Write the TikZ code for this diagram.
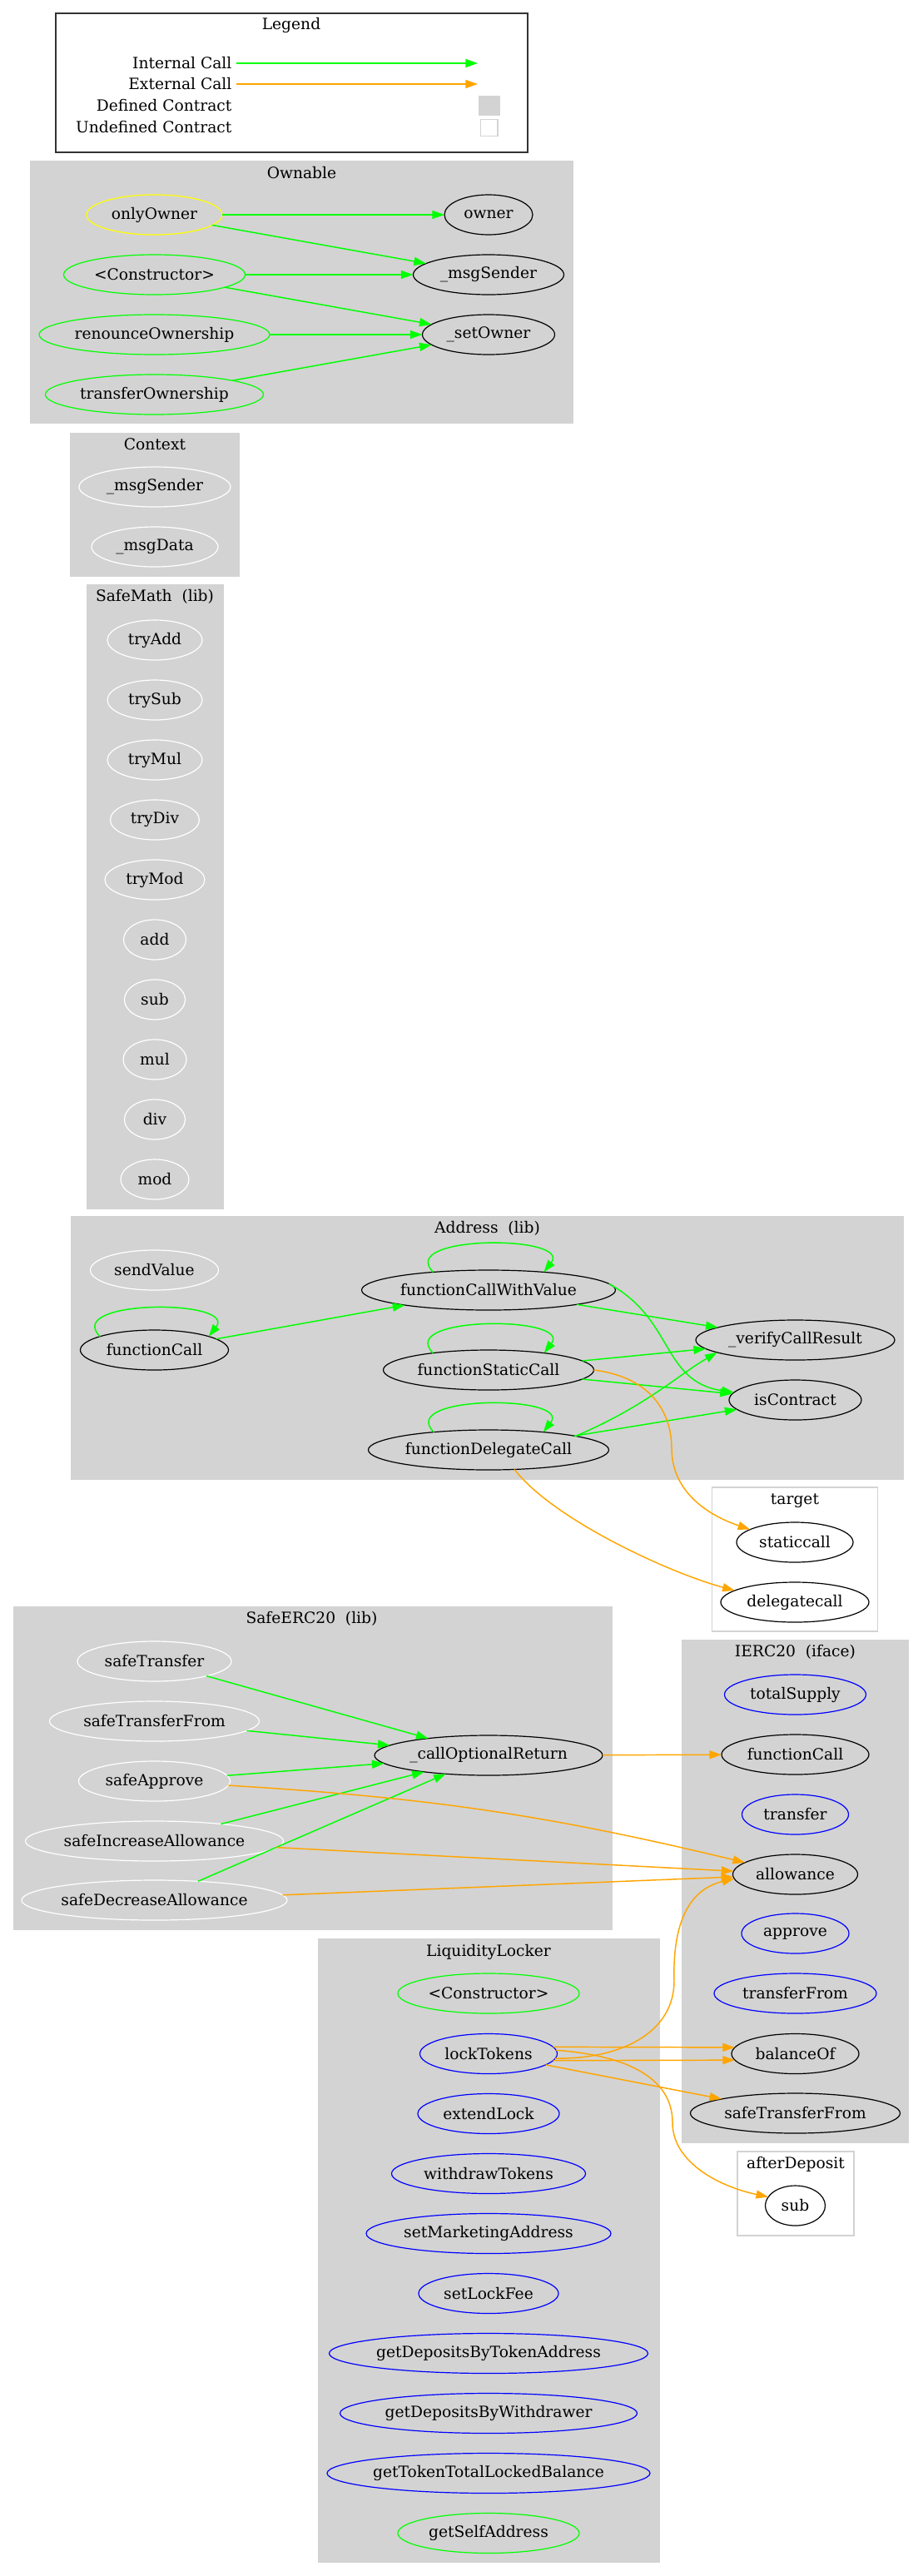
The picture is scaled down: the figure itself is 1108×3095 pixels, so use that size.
\documentclass[tikz,border=0pt]{standalone}
\usepackage{fontspec}
\setmainfont{DejaVu Serif}
\usetikzlibrary{shapes.geometric,arrows.meta}

\definecolor{clusterbg}{HTML}{D3D3D3}
\definecolor{callgreen}{HTML}{00FF00}
\definecolor{callorange}{HTML}{FFA500}
\definecolor{fnblue}{HTML}{0000FF}
\definecolor{fnyellow}{HTML}{FFFF00}

\tikzset{
    fn/.style={ellipse, draw=black, line width=0.9pt, inner xsep=-150pt, inner ysep=0pt, outer sep=0pt, minimum height=36pt, minimum width=#1*0.75pt},
    pubfn/.style={fn=#1, draw=fnblue},
    intfn/.style={fn=#1, draw=callgreen},
    modfn/.style={fn=#1, draw=fnyellow},
    libfn/.style={fn=#1, draw=white},
    icall/.style={callgreen, line width=1.1pt, -{Triangle[length=11pt,width=7.5pt]}},
    ecall/.style={callorange, line width=1.1pt, -{Triangle[length=11pt,width=7.5pt]}},
    cluster/.style={fill=clusterbg},
    extcluster/.style={draw=clusterbg, line width=1pt},
    legtext/.style={anchor=east, inner sep=4pt},
}

\begin{document}
\begin{tikzpicture}[x=0.75pt, y=-0.75pt, every node/.append style={font=\fontsize{14pt}{16.8pt}\selectfont}]
    \useasboundingbox (0,0) rectangle (1108,3095);

    \draw[black!80, line width=0.9pt] (67,16) rectangle (634,183);
    \node (legend) at (350,30) {Legend};
    \node[legtext] (lInt) at (284,76) {Internal Call};
    \node[legtext] (lExt) at (284,101) {External Call};
    \node[legtext] (lDef) at (284,127) {Defined Contract};
    \node[legtext] (lUndef) at (284,153) {Undefined Contract};
    \coordinate (lIntEnd) at (574,76);
    \coordinate (lExtEnd) at (574,101);
    \node[fill=clusterbg, draw=clusterbg, minimum width=19pt, minimum height=17.5pt, inner sep=0pt] (lDefBox) at (587.5,127) {};
    \node[draw=clusterbg, line width=1pt, minimum width=15.5pt, minimum height=15pt, inner sep=0pt] (lUndefBox) at (587.5,153.5) {};
    \draw[icall] (lInt) -- (lIntEnd);
    \draw[ecall] (lExt) -- (lExtEnd);

    \fill[cluster] (36,193) rectangle (689,509);
    \fill[cluster] (84,520) rectangle (288,693);
    \fill[cluster] (104,702) rectangle (269,1453);
    \fill[cluster] (85,1461) rectangle (1086,1778);
    \draw[extcluster] (855.5,1787) rectangle (1054.5,1960);
    \fill[cluster] (15.5,1930) rectangle (736,2319);
    \fill[cluster] (819,1970) rectangle (1092,2575);
    \fill[cluster] (381.5,2329) rectangle (792.5,3079);
    \draw[extcluster] (886,2585) rectangle (1026,2686);

    \node (ownable) at (362.5,208) {Ownable};
    \node[modfn=163] (oOnlyOwner) at (185.5,258) {onlyOwner};
    \node[fn=106] (oOwner) at (587,258) {owner};
    \node[intfn=218] (oCtor) at (185.5,330) {<Constructor>};
    \node[fn=181] (oMsgSender) at (587,330) {\_msgSender};
    \node[intfn=277] (oRenounce) at (185.5,402) {renounceOwnership};
    \node[fn=159] (oSetOwner) at (587,402) {\_setOwner};
    \node[intfn=262] (oTransfer) at (185.5,474) {transferOwnership};

    \node (context) at (186,534) {Context};
    \node[libfn=182] (cMsgSender) at (186,585) {\_msgSender};
    \node[libfn=152] (cMsgData) at (186,657) {\_msgData};

    \node (safemath) at (186,717) {SafeMath\ \ (lib)};
    \node[libfn=114] (mTryAdd) at (186,769) {tryAdd};
    \node[libfn=114] (mTrySub) at (186,841) {trySub};
    \node[libfn=114] (mTryMul) at (186,913) {tryMul};
    \node[libfn=107] (mTryDiv) at (186,985) {tryDiv};
    \node[libfn=120] (mTryMod) at (186,1057) {tryMod};
    \node[libfn=75] (mAdd) at (186,1129) {add};
    \node[libfn=73] (mSub) at (186,1201) {sub};
    \node[libfn=76] (mMul) at (186,1273) {mul};
    \node[libfn=73] (mDiv) at (186,1345) {div};
    \node[libfn=82] (mMod) at (186,1417) {mod};

    \node (address) at (585.5,1476) {Address\ \ (lib)};
    \node[libfn=154] (aSendValue) at (185.5,1526) {sendValue};
    \node[fn=305] (aFcwv) at (587,1550) {functionCallWithValue};
    \node[fn=178] (aFc) at (185.5,1622) {functionCall};
    \node[fn=239] (aVerify) at (955.5,1610) {\_verifyCallResult};
    \node[fn=253] (aFsc) at (587,1646) {functionStaticCall};
    \node[fn=159] (aIsContract) at (955.5,1682) {isContract};
    \node[fn=289] (aFdc) at (587,1742) {functionDelegateCall};

    \node (target) at (955,1803) {target};
    \node[fn=140] (tStatic) at (955,1853) {staticcall};
    \node[fn=178] (tDelegate) at (955,1925) {delegatecall};

    \node (safeerc) at (374.5,1945) {SafeERC20\ \ (lib)};
    \node[libfn=185] (sTransfer) at (185.5,1996) {safeTransfer};
    \node[libfn=252] (sTransferFrom) at (185.5,2068) {safeTransferFrom};
    \node[libfn=182] (sApprove) at (185.5,2140) {safeApprove};
    \node[libfn=310] (sIncrease) at (185.5,2212) {safeIncreaseAllowance};
    \node[libfn=319] (sDecrease) at (185.5,2283) {safeDecreaseAllowance};
    \node[fn=274] (sCallOpt) at (587,2109) {\_callOptionalReturn};

    \node (ierc) at (955.5,1985) {IERC20\ \ (iface)};
    \node[pubfn=170] (iTotalSupply) at (955.5,2036) {totalSupply};
    \node[fn=177] (iFunctionCall) at (955.5,2108) {functionCall};
    \node[pubfn=128] (iTransfer) at (955.5,2180) {transfer};
    \node[fn=150] (iAllowance) at (955.5,2252) {allowance};
    \node[pubfn=129] (iApprove) at (955.5,2323) {approve};
    \node[pubfn=195] (iTransferFrom) at (955.5,2395) {transferFrom};
    \node[fn=153] (iBalanceOf) at (955.5,2467.5) {balanceOf};
    \node[fn=252] (iSafeTransferFrom) at (955.5,2539) {safeTransferFrom};

    \node (locker) at (587,2345) {LiquidityLocker};
    \node[intfn=218] (lCtor) at (587,2395) {<Constructor>};
    \node[pubfn=165] (lLockTokens) at (587,2467.5) {lockTokens};
    \node[pubfn=170] (lExtendLock) at (587,2539.5) {extendLock};
    \node[pubfn=233] (lWithdraw) at (587,2611.5) {withdrawTokens};
    \node[pubfn=294] (lSetMarketing) at (587,2683.5) {setMarketingAddress};
    \node[pubfn=168] (lSetLockFee) at (587,2755.5) {setLockFee};
    \node[pubfn=383] (lByToken) at (587,2827.5) {getDepositsByTokenAddress};
    \node[pubfn=357] (lByWithdrawer) at (587,2899.5) {getDepositsByWithdrawer};
    \node[pubfn=388] (lTotalLocked) at (587,2971.5) {getTokenTotalLockedBalance};
    \node[intfn=218] (lSelfAddress) at (587,3043.5) {getSelfAddress};

    \node (afterdeposit) at (956,2600) {afterDeposit};
    \node[fn=72] (dSub) at (955.5,2650) {sub};

    \draw[icall] (oOnlyOwner) -- (oOwner);
    \draw[icall] (oOnlyOwner) -- (oMsgSender);
    \draw[icall] (oCtor) -- (oMsgSender);
    \draw[icall] (oCtor) -- (oSetOwner);
    \draw[icall] (oRenounce) -- (oSetOwner);
    \draw[icall] (oTransfer) -- (oSetOwner);

    \draw[icall] (aFc.166) .. controls +(-45,-45) and +(35,-45) .. (aFc.14);
    \draw[icall] (aFcwv.162) .. controls +(-45,-45) and +(35,-45) .. (aFcwv.18);
    \draw[icall] (aFsc.163) .. controls +(-45,-45) and +(35,-45) .. (aFsc.17);
    \draw[icall] (aFdc.162) .. controls +(-45,-45) and +(35,-45) .. (aFdc.18);
    \draw[icall] (aFc) -- (aFcwv);
    \draw[icall] (aFcwv) -- (aVerify);
    \draw[icall] (aFcwv.3) .. controls (810,1585) and (795,1660) .. (aIsContract.173);
    \draw[icall] (aFsc) -- (aVerify);
    \draw[icall] (aFsc) -- (aIsContract);
    \draw[icall] (aFdc.9) .. controls (775,1690) and (815,1652) .. (aVerify.189);
    \draw[icall] (aFdc) -- (aIsContract);
    \draw[ecall] (aFsc.east) .. controls (785,1655) and (807,1700) .. (807,1740) .. controls (807,1795) and (855,1822) .. (tStatic.164);
    \draw[ecall] (aFdc.-37) .. controls (665,1826) and (805,1890) .. (tDelegate.169);

    \draw[icall] (sTransfer) -- (sCallOpt);
    \draw[icall] (sTransferFrom) -- (sCallOpt);
    \draw[icall] (sApprove) -- (sCallOpt);
    \draw[icall] (sIncrease) -- (sCallOpt);
    \draw[icall] (sDecrease) -- (sCallOpt);
    \draw[ecall] (sCallOpt) -- (iFunctionCall);
    \draw[ecall] (sApprove) to[bend left=5] (iAllowance);
    \draw[ecall] (sIncrease) -- (iAllowance);
    \draw[ecall] (sDecrease) -- (iAllowance);

    \draw[ecall] (lLockTokens.6) -- (iBalanceOf.174);
    \draw[ecall] (lLockTokens.-6) -- (iBalanceOf.-174);
    \draw[ecall] (lLockTokens) -- (iSafeTransferFrom);
    \draw[ecall] (lLockTokens.3) .. controls (760,2470) and (808,2500) .. (808,2550) .. controls (808,2600) and (868,2628) .. (dSub.162);
    \draw[ecall] (lLockTokens.-4) .. controls (750,2474) and (810,2440) .. (810,2380) .. controls (808,2310) and (828,2270) .. (iAllowance.184);
\end{tikzpicture}
\end{document}
